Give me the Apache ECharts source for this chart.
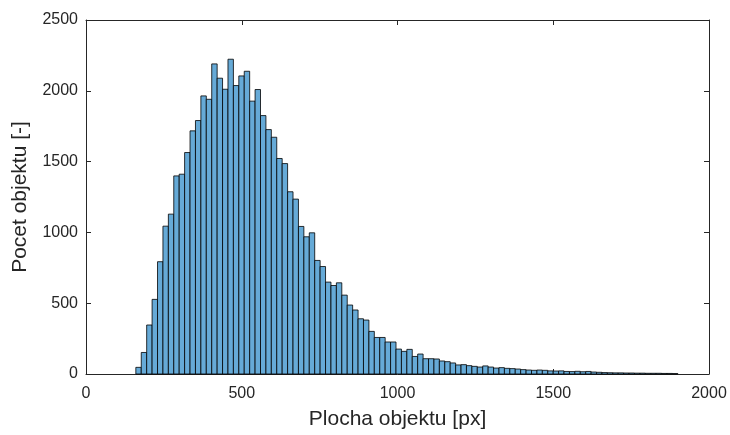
<!DOCTYPE html>
<html>
<head>
<meta charset="utf-8">
<script src="https://cdn.jsdelivr.net/npm/echarts@6/dist/echarts.min.js"></script>
<style>
  html, body { margin: 0; padding: 0; background: #fff; }
  #chart { width: 730px; height: 435px; }
</style>
</head>
<body>
<div id="chart"></div>
<script>
// histogram bins: 100 bins of equal width starting at binStart
const binStart = 160;
const binWidth = 17.4;
const counts = [
  47, 152, 346, 527, 793, 1044, 1129, 1399, 1411, 1564,
  1717, 1790, 1964, 1940, 2190, 2089, 2011, 2223, 2037, 2105,
  2138, 1927, 2009, 1825, 1726, 1672, 1522, 1486, 1287, 1235,
  1042, 969, 997, 802, 759, 649, 625, 644, 557, 487,
  452, 390, 381, 301, 258, 258, 226, 226, 176, 160,
  174, 124, 141, 108, 108, 106, 92, 87, 78, 64,
  66, 59, 54, 49, 57, 49, 42, 45, 40, 38,
  35, 31, 28, 26, 28, 26, 22, 21, 22, 18,
  17, 19, 16, 18, 14, 12, 10, 9, 8, 8,
  7, 7, 6, 6, 5, 5, 5, 4, 4, 3
];
const xTicks = [0, 500, 1000, 1500, 2000];
const yTicks = [0, 500, 1000, 1500, 2000, 2500];

const xLabel = "Plocha objektu [px]";
const yLabel = "Pocet objektu [-]";

const bins = counts.map((c, i) => [binStart + i * binWidth, binStart + (i + 1) * binWidth, c]);

const axisColor = "#262626";
const font = "Liberation Sans, Arial, Helvetica, sans-serif";

const chart = echarts.init(document.getElementById("chart"), null, { renderer: "canvas" });

const baseX = {
  type: "value",
  min: xTicks[0],
  max: xTicks[xTicks.length - 1],
  interval: 500,
  axisLine: { show: true, onZero: false, lineStyle: { color: axisColor, width: 1 } },
  axisTick: { show: true, inside: true, length: 5, lineStyle: { color: axisColor } },
  splitLine: { show: false },
};
const baseY = {
  type: "value",
  min: yTicks[0],
  max: yTicks[yTicks.length - 1],
  interval: 500,
  axisLine: { show: true, onZero: false, lineStyle: { color: axisColor, width: 1 } },
  axisTick: { show: true, inside: true, length: 5, lineStyle: { color: axisColor } },
  splitLine: { show: false },
};

const option = {
  animation: false,
  backgroundColor: "#ffffff",
  grid: { left: 86, right: 21, top: 20, bottom: 61 },
  xAxis: [
    Object.assign({}, baseX, {
      position: "bottom",
      name: xLabel,
      nameLocation: "middle",
      nameGap: 35,
      nameTextStyle: { fontFamily: font, fontSize: 21, color: axisColor },
      axisLabel: { fontFamily: font, fontSize: 16, color: axisColor, margin: 12, formatter: (v) => String(v) },
    }),
    Object.assign({}, baseX, { position: "top", axisLabel: { show: false } }),
  ],
  yAxis: [
    Object.assign({}, baseY, {
      position: "left",
      name: yLabel,
      nameLocation: "middle",
      nameGap: 55,
      nameTextStyle: { fontFamily: font, fontSize: 21, color: axisColor },
      axisLabel: { fontFamily: font, fontSize: 16, color: axisColor, margin: 8, formatter: (v) => String(v) },
    }),
    Object.assign({}, baseY, { position: "right", axisLabel: { show: false } }),
  ],
  series: [
    {
      type: "custom",
      xAxisIndex: 0,
      yAxisIndex: 0,
      data: bins,
      encode: { x: [0, 1], y: 2 },
      renderItem: function (params, api) {
        const p0 = api.coord([api.value(0), api.value(2)]);
        const p1 = api.coord([api.value(1), 0]);
        return {
          type: "rect",
          shape: { x: p0[0], y: p0[1], width: p1[0] - p0[0], height: p1[1] - p0[1] },
          style: { fill: "#66aad7", stroke: "#000000", lineWidth: 0.8 },
        };
      },
    },
  ],
};

chart.setOption(option);
</script>
</body>
</html>
